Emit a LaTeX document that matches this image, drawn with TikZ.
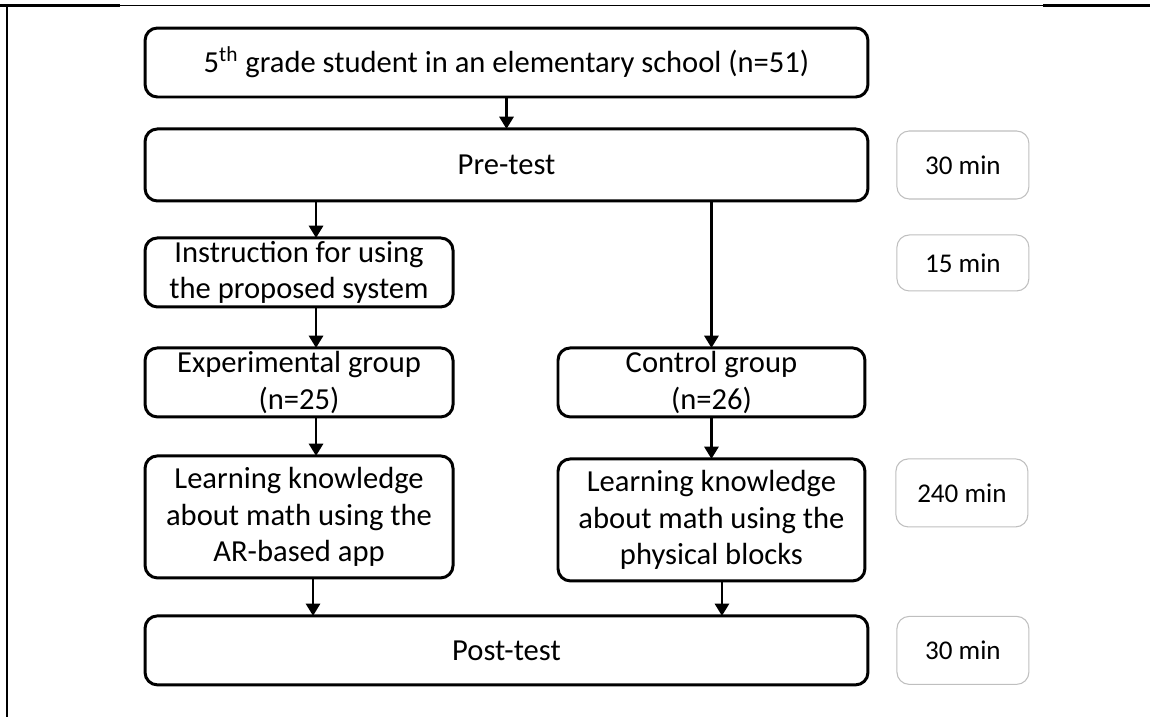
\documentclass[tikz,border=0pt]{standalone}
\usepackage{fontspec}
\setmainfont{Carlito}
\usetikzlibrary{arrows.meta,positioning,calc}
\definecolor{BoxCol}{HTML}{000000}
\definecolor{TimeCol}{HTML}{BFBFBF}
\tikzset{
  rounded box/.style={
    shape = rectangle,
    draw,
    rounded corners=7pt,
    inner sep=0pt,
    outer sep=0pt,
    align=center,
    },
  stage box/.style ={
    rounded box,
    draw = BoxCol,
    line width=1.7pt,
    font=\fontsize{17.4}{20.8}\selectfont,
    minimum height=1.38cm,
    },
  wide box/.style ={
    stage box,
    minimum width=14.46cm,
    },
  half box/.style ={
    stage box,
    minimum width=6.16cm,
    },
  time box/.style ={
    rounded box,
    draw = TimeCol,
    line width=0.6pt,
    minimum width=2.64cm,
    minimum height=1.36cm,
    font=\fontsize{15.4}{18}\selectfont,
    },
}
\tikzstyle{FlowA} = [-{Triangle[length=7pt,width=8pt]},BoxCol,line width=1.6pt]
\tikzstyle{Frame} = [line width=0.6pt]

\begin{document}
\begin{tikzpicture}[x=0.02cm,y=-0.02cm]

    \useasboundingbox (0,0) rectangle (1150,717);

    % Frame
    \draw[Frame] (0,5.5) -- (1150,5.5);
    \draw[Frame,line width=1.2pt] (0,5.5) -- (120,5.5);
    \draw[Frame,line width=1.2pt] (1043,5.5) -- (1150,5.5);
    \draw[Frame,line width=1.2pt] (7,5) -- (7,717);

    % Stages
    \node[wide box] (sample) at (506.5,62.5)
        {5\textsuperscript{th} grade student in an elementary school (n=51)};

    \node[wide box,minimum height=1.44cm,below=0.64cm of sample] (pre) {Pre-test};

    \node[half box,below=0.74cm of pre.south west,anchor=north west] (instr)
        {Instruction for using\\the proposed system};

    \node[half box,below=0.82cm of instr] (exp)
        {Experimental group\\(n=25)};

    \node[half box,minimum height=2.44cm,below=0.78cm of exp] (learnA)
        {Learning knowledge\\about math using the\\AR-based app};

    \node[half box,minimum width=6.14cm,right=2.1cm of exp] (ctrl)
        {Control group\\(n=26)};

    \node[half box,minimum width=6.14cm,minimum height=2.44cm,below=0.84cm of ctrl] (learnB)
        {Learning knowledge\\about math using the\\physical blocks};

    \node[wide box,below=0.76cm of learnA.south west,anchor=north west] (post) {Post-test};

    % Durations
    \node[time box,right=0.58cm of pre] (t1) {30 min};
    \node[time box,minimum height=1.12cm,below=0.72cm of t1] (t2) {15 min};
    \node[time box,right=0.62cm of learnB.north east,anchor=north west] (t3) {240 min};
    \node[time box,right=0.58cm of post] (t4) {30 min};

    % Flow
    \draw[FlowA] (sample.south) -- (pre.north);
    \draw[FlowA] ([xshift=.34cm]instr.north |- pre.south) -- ([xshift=.34cm]instr.north);
    \draw[FlowA] ([xshift=.34cm]instr.south) -- ([xshift=.34cm]instr.south |- exp.north);
    \draw[FlowA] ([xshift=.34cm]exp.south) -- ([xshift=.34cm]exp.south |- learnA.north);
    \draw[FlowA] ([xshift=.28cm]learnA.south) -- ([xshift=.28cm]learnA.south |- post.north);

    \draw[FlowA] (ctrl.north |- pre.south) -- (ctrl.north);
    \draw[FlowA] (ctrl.south) -- (learnB.north);
    \draw[FlowA] ([xshift=.21cm]learnB.south) -- ([xshift=.21cm]learnB.south |- post.north);

\end{tikzpicture}
\end{document}
